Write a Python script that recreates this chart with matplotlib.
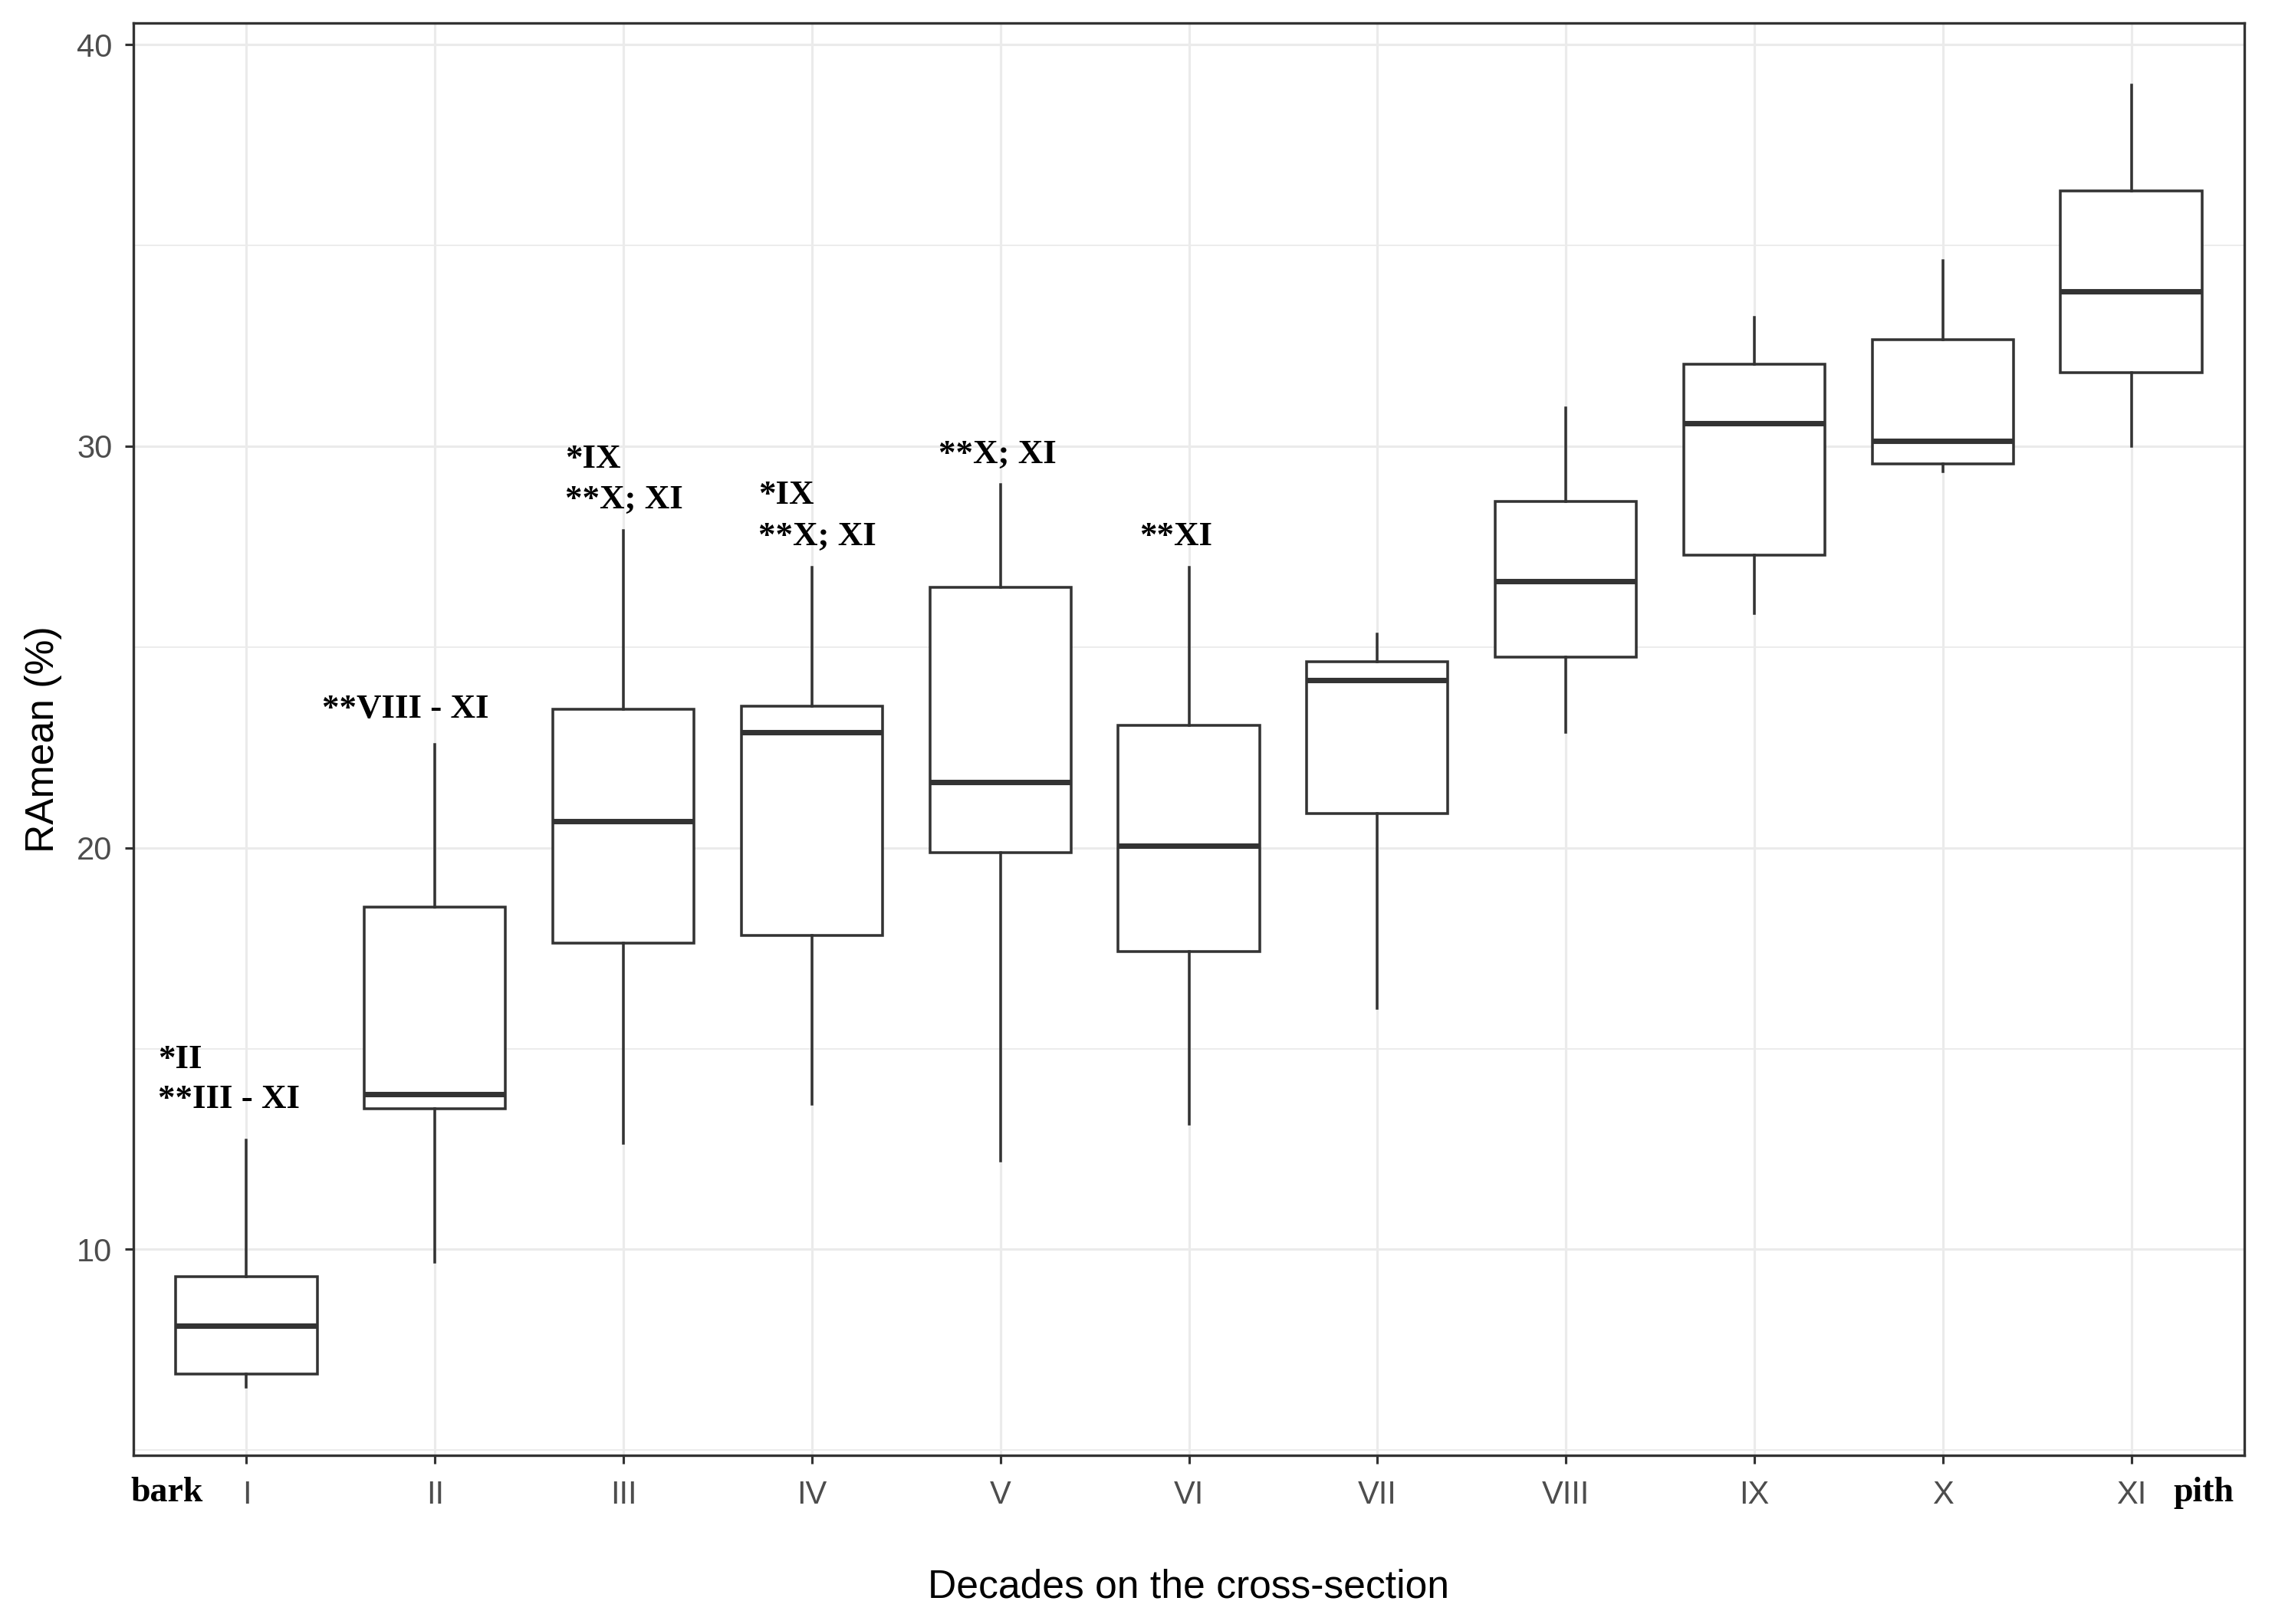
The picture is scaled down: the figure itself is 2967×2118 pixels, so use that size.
import matplotlib
matplotlib.use("Agg")
import matplotlib.pyplot as plt
from matplotlib.ticker import MultipleLocator

# ---- data ----
decades = ["I", "II", "III", "IV", "V", "VI", "VII", "VIII", "IX", "X", "XI"]
whisker_low = [6.57, 9.68, 12.64, 13.62, 12.21, 13.11, 16.00, 22.87, 25.83, 29.37, 30.00]
q1 = [6.90, 13.51, 17.63, 17.81, 19.87, 17.41, 20.85, 24.75, 27.28, 29.56, 31.83]
median = [8.09, 13.87, 20.66, 22.87, 21.64, 20.05, 24.17, 26.63, 30.57, 30.13, 33.86]
q3 = [9.32, 18.53, 23.45, 23.52, 26.48, 23.05, 24.64, 28.62, 32.05, 32.66, 36.35]
whisker_high = [12.71, 22.58, 27.89, 26.99, 29.05, 26.99, 25.33, 30.96, 33.21, 34.62, 38.99]

# significance annotations: (label, x position, y position)
ann_text = ["*II\n**III - XI", "**VIII - XI", "*IX\n**X; XI", "*IX\n**X; XI", "**X; XI", "**XI"]
ann_x = [0.53, 1.40, 2.69, 3.715, 4.67, 5.74]
ann_y = [14.23, 23.45, 29.18, 28.27, 29.81, 27.75]

yticks = [10, 20, 30, 40]

# ---- figure ----
W, H, DPI = 2967, 2118, 300
fig = plt.figure(figsize=(W / DPI, H / DPI), dpi=DPI)
ax = fig.add_axes([174 / W, 1 - 1898 / H, (2927 - 174) / W, (1898 - 30) / H])

dark = "#333333"
stats = []
for i, name in enumerate(decades):
    stats.append(dict(label=name, whislo=whisker_low[i], q1=q1[i], med=median[i],
                      q3=q3[i], whishi=whisker_high[i], fliers=[]))
positions = list(range(1, len(decades) + 1))
ax.bxp(stats, positions=positions, widths=0.75, showfliers=False, showcaps=False,
       patch_artist=True,
       boxprops=dict(facecolor="white", edgecolor=dark, linewidth=0.85),
       medianprops=dict(color=dark, linewidth=1.7, solid_capstyle="butt"),
       whiskerprops=dict(color=dark, linewidth=0.85),
       zorder=3)

ax.set_xlim(0.4, 11.6)
ax.set_ylim(4.87, 40.54)
ax.set_xticks(positions)
ax.set_xticklabels(decades)
ax.yaxis.set_major_locator(MultipleLocator(10))
ax.yaxis.set_minor_locator(MultipleLocator(5))
ax.set_yticks(yticks)

ax.grid(True, which="major", color="#EBEBEB", linewidth=0.75, zorder=0)
ax.grid(True, which="minor", axis="y", color="#EBEBEB", linewidth=0.45, zorder=0)
ax.set_axisbelow(True)

for sp in ax.spines.values():
    sp.set_color(dark)
    sp.set_linewidth(0.8)

ax.tick_params(axis="both", which="major", length=2.6, width=0.75, color=dark,
               labelcolor="#4D4D4D", labelsize=10, pad=4)
ax.tick_params(axis="x", which="major", pad=5)
ax.tick_params(axis="y", which="minor", length=0)
for lab in ax.get_xticklabels() + ax.get_yticklabels():
    lab.set_fontfamily(["Liberation Sans", "DejaVu Sans"])

ax.set_xlabel("Decades on the cross-section", fontsize=12.4, color="black",
              fontfamily=["Liberation Sans", "DejaVu Sans"])
ax.set_ylabel("RAmean (%)", fontsize=12.4, color="black",
              fontfamily=["Liberation Sans", "DejaVu Sans"])
ax.xaxis.set_label_coords(0.5, -0.092)
ax.xaxis.label.set_va("center")
ax.yaxis.set_label_coords(-0.0425, 0.5)
ax.yaxis.label.set_va("center")

serif = ["Liberation Serif", "DejaVu Serif"]
for t, x, y in zip(ann_text, ann_x, ann_y):
    ax.text(x, y, t, ha="left", va="center", fontsize=10.8, fontweight="bold",
            family=serif, color="black", linespacing=1.4, zorder=4)

xt = ax.get_xaxis_transform()
ax.text(0.576, -0.026, "bark", transform=xt, ha="center", va="center",
        fontsize=11, fontweight="bold", family=serif, color="black", clip_on=False)
ax.text(11.385, -0.026, "pith", transform=xt, ha="center", va="center",
        fontsize=11, fontweight="bold", family=serif, color="black", clip_on=False)

fig.savefig("out.png", dpi=DPI, facecolor="white")
